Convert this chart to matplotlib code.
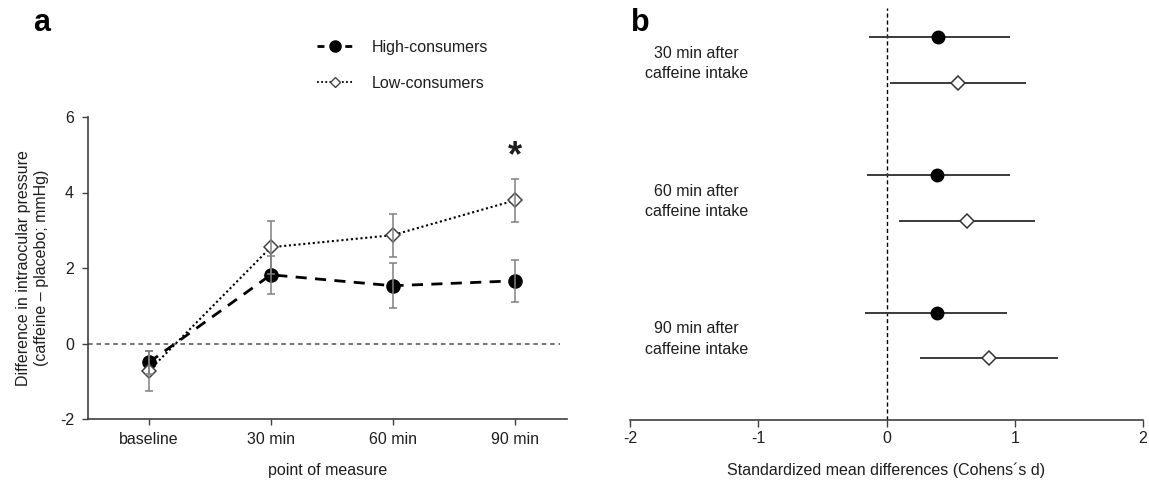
import matplotlib
matplotlib.use("Agg")
import matplotlib.pyplot as plt
from matplotlib.lines import Line2D

plt.rcParams['font.family'] = ['Liberation Sans', 'DejaVu Sans']
plt.rcParams['font.size'] = 11.5
plt.rcParams['axes.unicode_minus'] = False

# ---- data panel a ----
timepoints = ["baseline", "30 min", "60 min", "90 min"]
high_mean = [-0.50, 1.82, 1.53, 1.66]
high_err = [0.31, 0.51, 0.60, 0.55]
low_mean = [-0.72, 2.55, 2.87, 3.79]
low_err = [0.53, 0.70, 0.57, 0.56]
a_yticks = [-2, 0, 2, 4, 6]

# ---- data panel b ----
groups = ["30 min after\ncaffeine intake", "60 min after\ncaffeine intake",
          "90 min after\ncaffeine intake"]
high_d = [0.40, 0.39, 0.39]
high_lo = [-0.14, -0.15, -0.17]
high_hi = [0.96, 0.96, 0.94]
low_d = [0.56, 0.63, 0.80]
low_lo = [0.03, 0.10, 0.26]
low_hi = [1.09, 1.16, 1.34]
b_xticks = [-2, -1, 0, 1, 2]

W, H = 1149, 482
fig = plt.figure(figsize=(W / 100, H / 100), dpi=100)

txt = '#1e1e1e'
spine_c = '#404040'

# ================= panel a =================
axa = fig.add_axes([88 / W, 1 - 419 / H, (567 - 88) / W, (419 - 117) / H])
x = list(range(len(timepoints)))
axa.axhline(0, color='#505050', lw=1.1, ls=(0, (3, 2.5)), zorder=1, xmax=0.985)

axa.plot(x, high_mean, color='black', lw=2.0, ls=(0, (4, 3)), zorder=3)
axa.plot(x, low_mean, color='black', lw=1.5, ls=(0, (1, 1.3)), zorder=3)
axa.plot(x, high_mean, ls='none', marker='o', ms=9.5, mfc='black', mec='black', zorder=4)
axa.plot(x, low_mean, ls='none', marker='D', ms=7.5, mfc='white', mec='#444444',
         mew=1.1, zorder=4)
axa.errorbar(x, high_mean, yerr=high_err, fmt='none', ecolor='#808080', elinewidth=1.1,
             capsize=3, capthick=1.1, zorder=5)
axa.errorbar(x, low_mean, yerr=low_err, fmt='none', ecolor='#808080', elinewidth=1.1,
             capsize=3, capthick=1.1, zorder=5)

axa.text(3, 4.95, '*', ha='center', va='center', fontsize=26, fontweight='bold', color=txt)

axa.set_xlim(-0.5, 3.43)
axa.set_ylim(-2, 6)
axa.set_xticks(x)
axa.set_xticklabels(timepoints)
axa.set_yticks(a_yticks)
for s in ['top', 'right']:
    axa.spines[s].set_visible(False)
for s in ['left', 'bottom']:
    axa.spines[s].set_color(spine_c)
    axa.spines[s].set_linewidth(1.2)
axa.tick_params(axis='both', direction='out', length=4, width=1.0, color=spine_c,
                labelcolor=txt, labelsize=11.5)
axa.tick_params(axis='x', pad=5)
axa.tick_params(axis='y', pad=6)
axa.set_xlabel('point of measure', color=txt, fontsize=11.5, labelpad=12)
axa.set_ylabel('Difference in intraocular pressure\n(caffeine \u2013 placebo; mmHg)',
               color=txt, fontsize=11.5, labelpad=8, linespacing=1.2)

handles = [
    Line2D([], [], color='black', lw=2.0, ls=(0, (2.5, 2.5)), marker='o', ms=8,
           mfc='black', mec='black'),
    Line2D([], [], color='black', lw=1.3, ls=(0, (1, 1.3)), marker='D', ms=5.5,
           mfc='white', mec='#444444'),
]
fig.legend(handles, ['High-consumers', 'Low-consumers'], loc='upper left',
           bbox_to_anchor=(317 / W, 1 - 40 / H), bbox_transform=fig.transFigure,
           frameon=False, handlelength=2.3, handletextpad=1.1, borderpad=0,
           borderaxespad=0, labelspacing=1.3, numpoints=1, fontsize=11.5,
           labelcolor=txt)

fig.text(42 / W, 1 - 23 / H, 'a', ha='center', va='center', fontsize=22,
         fontweight='bold', color='black')

# ================= panel b =================
axb = fig.add_axes([630 / W, 1 - 420 / H, (1143 - 630) / W, (420 - 8) / H])
yh = [3 * i for i in range(len(groups))]
yl = [3 * i + 1 for i in range(len(groups))]

axb.axvline(0, color='black', lw=1.0, ls=(0, (3, 2)), zorder=1)
axb.hlines(yh, high_lo, high_hi, color='#3a3a3a', lw=1.4, zorder=2)
axb.hlines(yl, low_lo, low_hi, color='#3a3a3a', lw=1.4, zorder=2)
axb.plot(high_d, yh, ls='none', marker='o', ms=9, mfc='black', mec='black', zorder=3)
axb.plot(low_d, yl, ls='none', marker='D', ms=7, mfc='white', mec='#333333',
         mew=1.1, zorder=3)
for i, g in enumerate(groups):
    axb.text(-1.48, 3 * i + 0.58, g, ha='center', va='center', fontsize=11.5,
             color=txt, linespacing=1.45)

axb.set_xlim(-2, 2)
axb.set_ylim(8.34, -0.63)
axb.set_xticks(b_xticks)
axb.set_yticks([])
for s in ['top', 'right', 'left']:
    axb.spines[s].set_visible(False)
axb.spines['bottom'].set_color(spine_c)
axb.spines['bottom'].set_linewidth(1.2)
axb.tick_params(axis='x', direction='out', length=5, width=1.0, color=spine_c,
                labelcolor=txt, labelsize=11.5, pad=3)
axb.set_xlabel('Standardized mean differences (Cohens\u00b4s d)', color=txt,
               fontsize=11.5, labelpad=12)

fig.text(640 / W, 1 - 23 / H, 'b', ha='center', va='center', fontsize=22,
         fontweight='bold', color='black')

fig.savefig('out.png', dpi=100)
